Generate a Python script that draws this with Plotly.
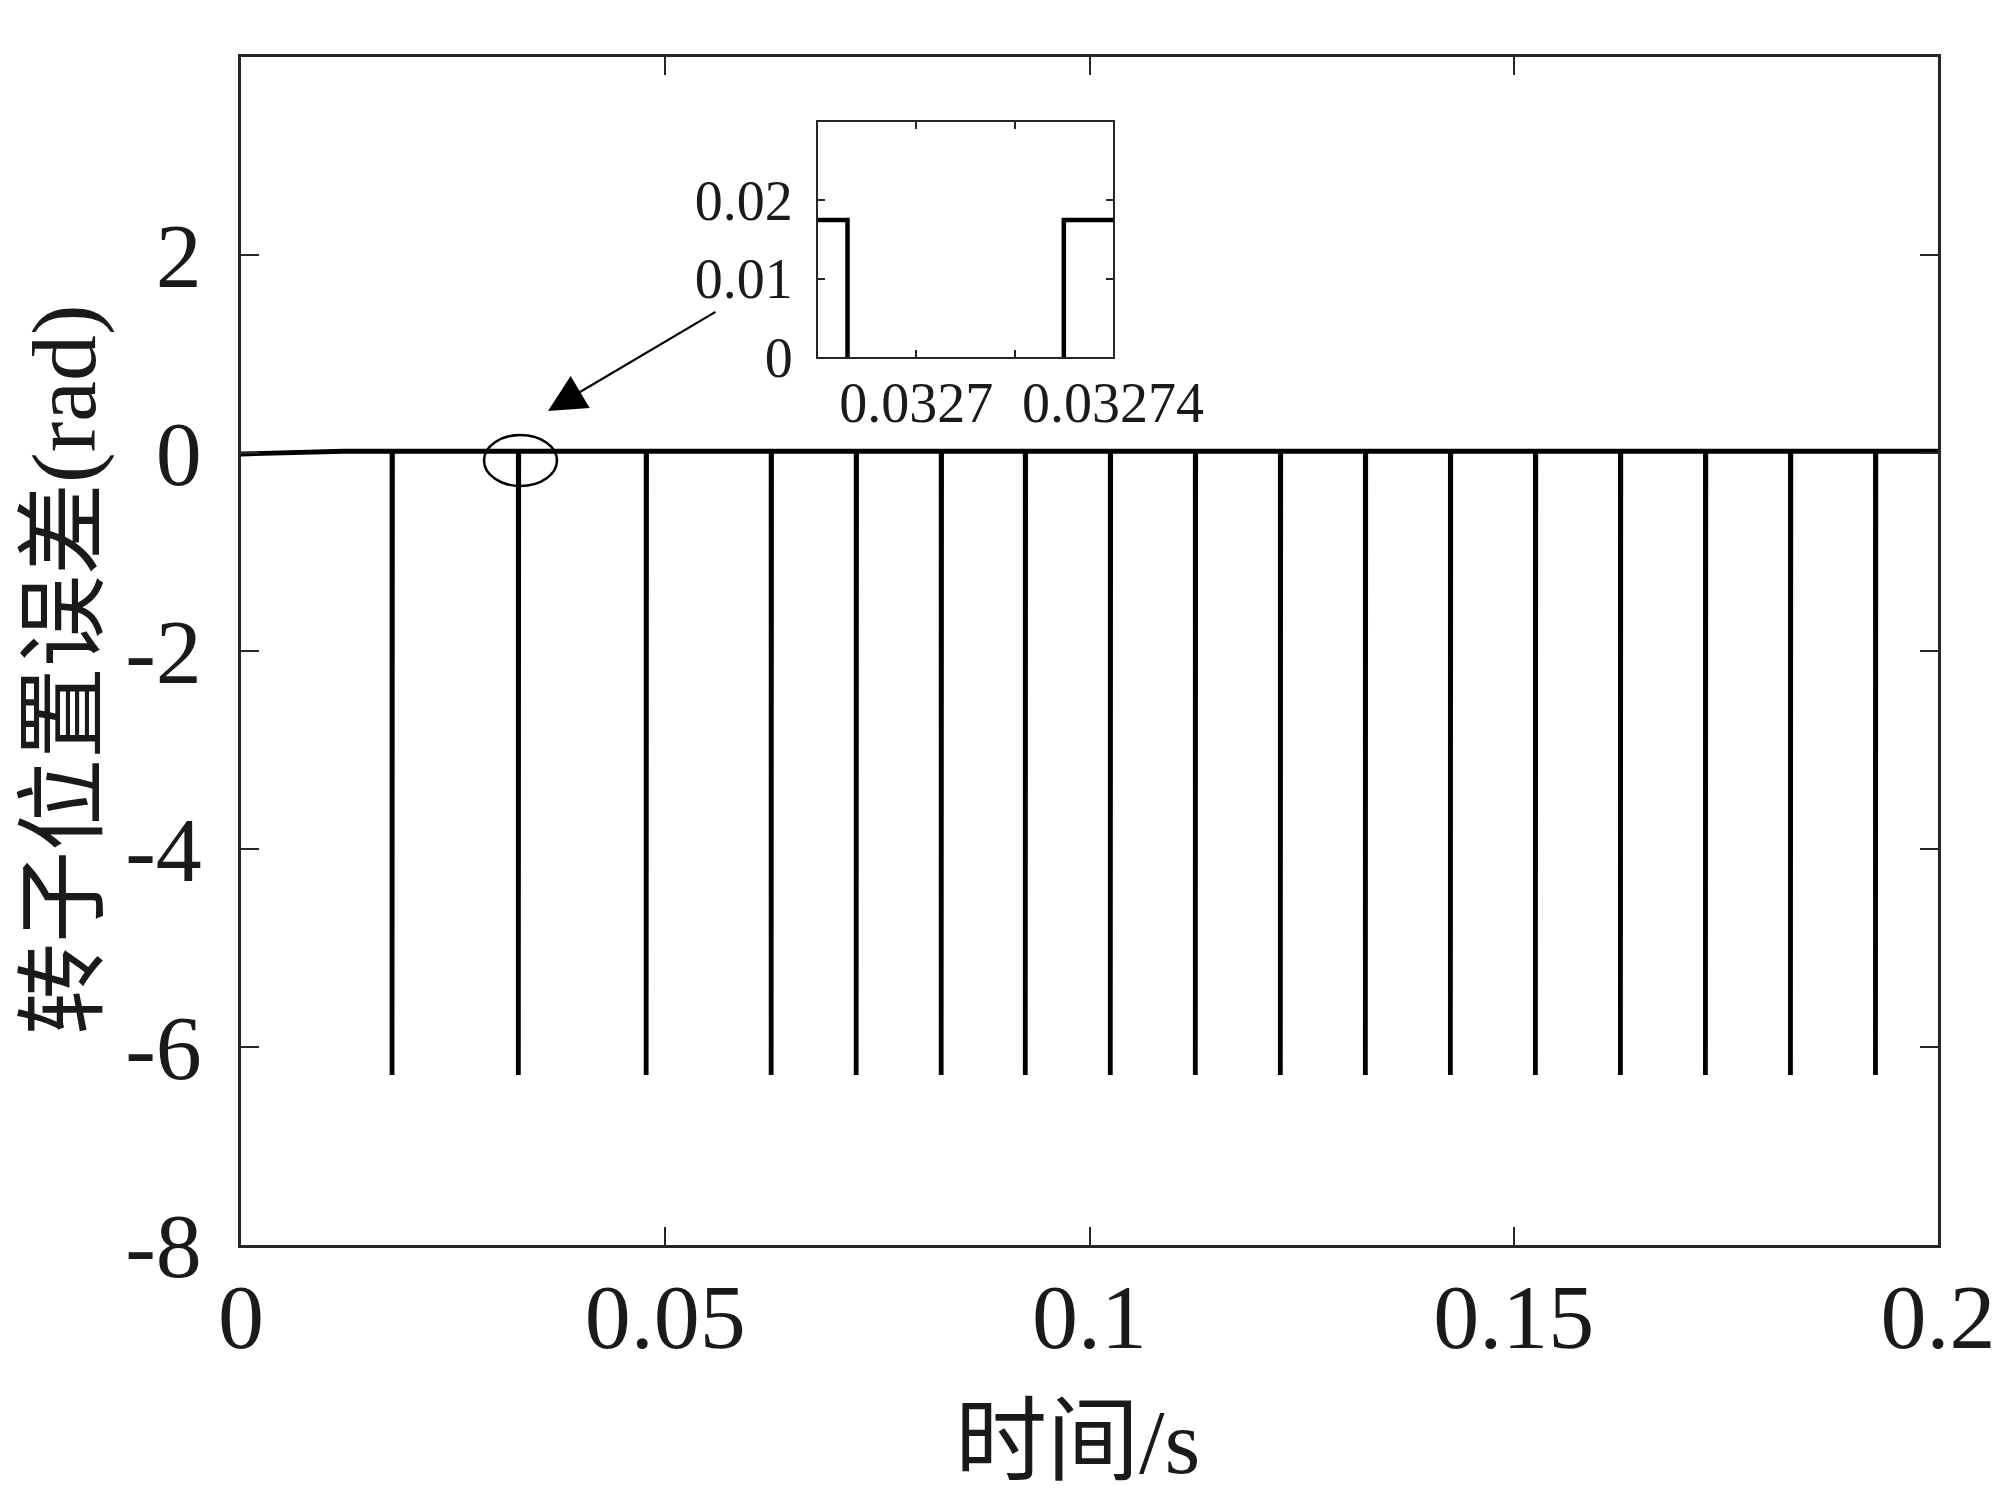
import numpy as np
import plotly.graph_objects as go

# ---------------- data ----------------
# baseline (slow) error level
base_t = [0.0, 0.004, 0.008, 0.012, 0.2]
base_v = [-0.01, 0.0, 0.01, 0.0175, 0.0175]
# times where position error wraps by -2*pi (spike start), s
spike_t = [0.01780, 0.032686, 0.04775, 0.06248, 0.07250, 0.08252, 0.09243,
           0.10245, 0.11247, 0.12249, 0.13251, 0.14253, 0.15255, 0.16257,
           0.17259, 0.18261, 0.19263]
spike_dur = [0.000044]          # spike width, s
spike_depth = [-6.2832]         # value during spike, rad
spike_level = [0.0175]          # level right before / after spike, rad

x_ticks = [0, 0.05, 0.1, 0.15, 0.2]
x_ticktext = ["0", "0.05", "0.1", "0.15", "0.2"]
y_ticks = [-8, -6, -4, -2, 0, 2]
y_ticktext = ["-8", "-6", "-4", "-2", "0", "2"]
inset_x_ticks = [0.03268, 0.0327, 0.03272, 0.03274]
inset_x_ticktext = ["", "0.0327", "", "0.03274"]
inset_y_ticks = [0, 0.01, 0.02]
inset_y_ticktext = ["0", "0.01", "0.02"]

# ------------- build the step series -------------
pts = list(zip(base_t, base_v))
for t in spike_t:
    t2 = t + spike_dur[0]
    pts += [(t, spike_level[0]), (t, spike_depth[0]),
            (t2, spike_depth[0]), (t2, spike_level[0])]
order = sorted(range(len(pts)), key=lambda i: (pts[i][0], i))
xs = [pts[i][0] for i in order]
ys = [pts[i][1] for i in order]

FONT = "Liberation Serif, Times New Roman, Noto Sans CJK SC, serif"
AX = "#262626"
TXT = "#1a1a1a"

fig = go.Figure()
fig.add_trace(go.Scatter(x=xs, y=ys, mode="lines",
                         line=dict(color="black", width=4.8),
                         xaxis="x", yaxis="y", showlegend=False,
                         hoverinfo="skip"))
fig.add_trace(go.Scatter(x=xs, y=ys, mode="lines",
                         line=dict(color="black", width=4.5),
                         xaxis="x2", yaxis="y2", showlegend=False,
                         hoverinfo="skip"))

# page offset of the plot div (default body margin)
OFF = 8
W, H = 2000, 1502
# desired plot area in page pixels
PL, PR, PT, PB = 241, 1938, 57, 1245
L, T = PL - OFF, PT - OFF
R, B = W - (PR - OFF), H - (PB - OFF)
pw, ph = PR - PL, PB - PT

def px_x(p):
    return (p - PL) / pw

def px_y(p):
    return (PB - p) / ph

fig.update_layout(
    width=W, height=H,
    margin=dict(l=L, r=R, t=T, b=B, autoexpand=False),
    paper_bgcolor="white", plot_bgcolor="white",
    font=dict(family=FONT, color="black"),
    xaxis=dict(range=[0, 0.2], tickvals=x_ticks, ticktext=x_ticktext,
               ticks="inside", ticklen=18, tickwidth=2, tickcolor=AX,
               showline=True, linecolor=AX, linewidth=2.5, mirror="ticks",
               showgrid=False, zeroline=False,
               tickfont=dict(size=92, family=FONT, color=TXT),
               ticklabelstandoff=-10),
    yaxis=dict(range=[-8, 4], tickvals=y_ticks, ticktext=y_ticktext,
               ticks="inside", ticklen=18, tickwidth=2, tickcolor=AX,
               showline=True, linecolor=AX, linewidth=2.5, mirror="ticks",
               showgrid=False, zeroline=False,
               tickfont=dict(size=92, family=FONT, color=TXT),
               ticklabelstandoff=18),
    xaxis2=dict(domain=[px_x(818), px_x(1113)], anchor="y2",
                range=[0.03268, 0.03274], tickvals=inset_x_ticks,
                ticktext=inset_x_ticktext,
                ticks="inside", ticklen=7, tickwidth=2, tickcolor=AX,
                showline=True, linecolor=AX, linewidth=2, mirror="ticks",
                showgrid=False, zeroline=False,
                tickfont=dict(size=56, family=FONT, color=TXT),
                ticklabelstandoff=-4),
    yaxis2=dict(domain=[px_y(357), px_y(122)], anchor="x2",
                range=[0, 0.03], tickvals=inset_y_ticks,
                ticktext=inset_y_ticktext,
                ticks="inside", ticklen=7, tickwidth=2, tickcolor=AX,
                showline=True, linecolor=AX, linewidth=2, mirror="ticks",
                showgrid=False, zeroline=False,
                tickfont=dict(size=56, family=FONT, color=TXT),
                ticklabelstandoff=12),
)

# ellipse around the magnified spike
fig.add_shape(type="circle", xref="x", yref="y",
              x0=0.02864, x1=0.03724, y0=-0.333, y1=0.182,
              line=dict(color="black", width=2.5))

# arrow pointing to the ellipse
fig.add_annotation(x=0.03618, y=0.424, ax=0.0561, ay=1.434,
                   xref="x", yref="y", axref="x", ayref="y",
                   text="", showarrow=True, arrowhead=2, arrowsize=3.4,
                   arrowwidth=2.2, arrowcolor="black")

# axis titles
fig.add_annotation(text="时间/s", xref="paper", yref="paper",
                   x=px_x(1077), y=px_y(1442), xanchor="center",
                   yanchor="middle", showarrow=False,
                   font=dict(size=92, family=FONT, color=TXT))
fig.add_annotation(text="转子位置误差(rad)", xref="paper", yref="paper",
                   x=px_x(64), y=px_y(670), xanchor="center",
                   yanchor="middle", showarrow=False, textangle=-90,
                   font=dict(size=92, family=FONT, color=TXT))

fig.write_html("out.html")
